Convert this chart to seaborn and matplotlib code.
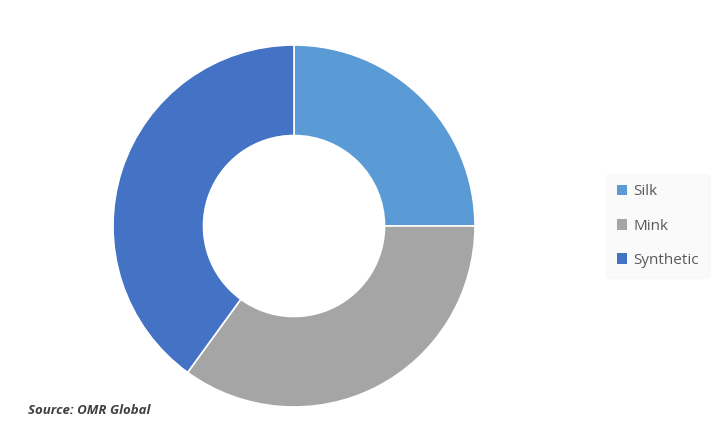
import seaborn as sns
import matplotlib.pyplot as plt
from matplotlib.patches import Patch

# Share of segments (read from the donut)
labels = ["Silk", "Mink", "Synthetic"]
shares = [25, 35, 40]
colors = ["#5B9BD5", "#A5A5A5", "#4472C4"]

sns.set_theme(style="white")
plt.rcParams['font.family'] = ['Open Sans', 'DejaVu Sans']

fig = plt.figure(figsize=(7.17, 4.21), dpi=100)
fig.patch.set_facecolor("white")

# donut axes: centre (294,226) px, radius 181 px
ax = fig.add_axes([113 / 717, 14 / 421, 362 / 717, 362 / 421])
ax.pie(shares, colors=colors, startangle=90, counterclock=False,
       radius=1.0, wedgeprops=dict(width=0.5, edgecolor="white", linewidth=1.2))
ax.set_xlim(-1, 1)
ax.set_ylim(-1, 1)
ax.set_aspect("equal")
ax.axis("off")

handles = [Patch(facecolor=c, edgecolor="none") for c in colors]
leg = fig.legend(handles, labels, loc="center left",
                 bbox_to_anchor=(606 / 717, 1 - 226 / 421),
                 frameon=True, fontsize=11, labelspacing=1.25,
                 handlelength=0.7, handleheight=0.7, handletextpad=0.4,
                 borderpad=0.7, borderaxespad=0)
leg.get_frame().set_facecolor("#F9F9F9")
leg.get_frame().set_edgecolor("#F9F9F9")
for t in leg.get_texts():
    t.set_color("#595959")

fig.text(28 / 717, 1 - 410 / 421, "Source: OMR Global", fontsize=9.5,
         fontweight="bold", fontstyle="italic", color="#404040",
         va="center", ha="left")

fig.savefig("out.png", dpi=100)
